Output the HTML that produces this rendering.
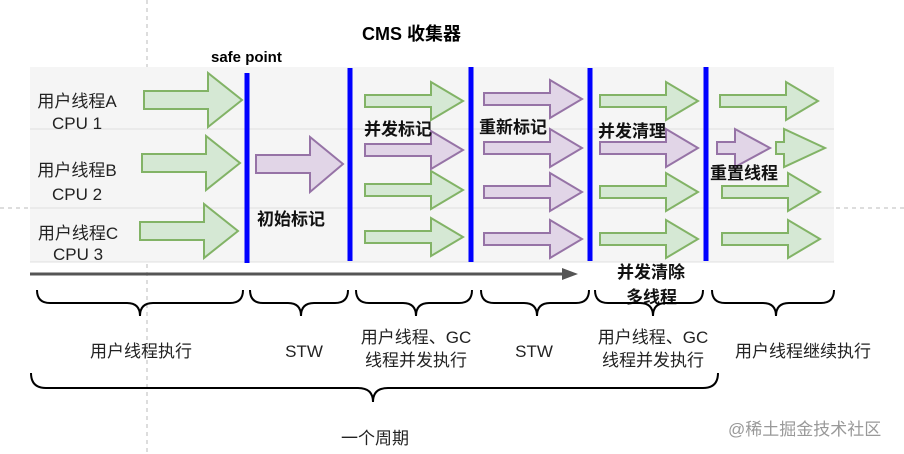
<!DOCTYPE html>
<html><head><meta charset="utf-8"><style>
html,body{margin:0;padding:0;background:#fff;}
svg{display:block;}
text{font-family:"Liberation Sans","Noto Sans CJK SC",sans-serif;}
</style></head><body>
<svg width="904" height="454" viewBox="0 0 904 454" xmlns="http://www.w3.org/2000/svg">
<defs>
<path id="big" d="M0,-9H64V-27L98,0L64,27V9H0Z"/>
<path id="med" d="M0,-6H66V-19L98,0L66,19V6H0Z"/>
<path id="sp" d="M0,-6H18V-19L53,0L18,19V6H0Z"/>
<path id="sg" d="M0,-6H8V-19L49,0L8,19V6H0Z"/>
</defs>
<line x1="147" y1="0" x2="147" y2="454" stroke="#bbb" stroke-dasharray="4,4"/>
<line x1="0" y1="208" x2="30" y2="208" stroke="#bbb" stroke-dasharray="4,4"/>
<line x1="836" y1="208" x2="904" y2="208" stroke="#bbb" stroke-dasharray="4,4"/>
<rect x="30" y="67" width="804" height="195" fill="#f5f5f5"/>
<line x1="30" y1="129" x2="834" y2="129" stroke="#e0e0e0"/>
<line x1="30" y1="208" x2="834" y2="208" stroke="#e0e0e0"/>
<line x1="30" y1="262" x2="834" y2="262" stroke="#e0e0e0"/>
<g fill="#d5e8d4" stroke="#82b366" stroke-width="2">
<use href="#big" transform="translate(144,100)"/>
<use href="#big" transform="translate(142,163)"/>
<use href="#big" transform="translate(140,231)"/>
<use href="#med" transform="translate(365,101)"/>
<use href="#med" transform="translate(365,190)"/>
<use href="#med" transform="translate(365,237)"/>
<use href="#med" transform="translate(600,101)"/>
<use href="#med" transform="translate(600,192)"/>
<use href="#med" transform="translate(600,239)"/>
<use href="#med" transform="translate(720,101)"/>
<use href="#med" transform="translate(722,192)"/>
<use href="#med" transform="translate(722,239)"/>
<use href="#sg" transform="translate(776,148)"/>
</g>
<g fill="#e1d5e7" stroke="#9673a6" stroke-width="2">
<path d="M256,155H310V137L343,164L310,192V173H256Z"/>
<use href="#med" transform="translate(365,150)"/>
<use href="#med" transform="translate(484,99)"/>
<use href="#med" transform="translate(484,148)"/>
<use href="#med" transform="translate(484,192)"/>
<use href="#med" transform="translate(484,239)"/>
<use href="#med" transform="translate(600,148)"/>
<use href="#sp" transform="translate(717,148)"/>
</g>
<g stroke="#0000ff" stroke-width="5">
<line x1="247" y1="73" x2="247" y2="263"/>
<line x1="350" y1="68" x2="350" y2="261"/>
<line x1="471" y1="67" x2="471" y2="262"/>
<line x1="590" y1="68" x2="590" y2="261"/>
<line x1="706" y1="67" x2="706" y2="261"/>
</g>
<line x1="30" y1="274" x2="565" y2="274" stroke="#555" stroke-width="3"/>
<path d="M562,268L578,274L562,280Z" fill="#555"/>
<text x="362" y="40" font-size="18" font-weight="bold" fill="#000">CMS 收集器</text>
<text x="211" y="62" font-size="15" font-weight="bold" fill="#000">safe point</text>
<g font-size="17" fill="#222" text-anchor="middle">
<text x="77" y="107">用户线程A</text><text x="77" y="129">CPU 1</text>
<text x="77" y="176">用户线程B</text><text x="77" y="200">CPU 2</text>
<text x="78" y="239">用户线程C</text><text x="78" y="260">CPU 3</text>
</g>
<g font-size="17" font-weight="bold" fill="#111">
<text x="257" y="225">初始标记</text>
<text x="364" y="135">并发标记</text>
<text x="479" y="133">重新标记</text>
<text x="598" y="137">并发清理</text>
<text x="710" y="179">重置线程</text>
<text x="617" y="278">并发清除</text>
<text x="626" y="303">多线程</text>
</g>
<g fill="none" stroke="#000" stroke-width="2">
<path d="M37,290Q37,303 50,303H127Q140,303 140,316Q140,303 153,303H230Q243,303 243,290"/>
<path d="M250,290Q250,303 263,303H288Q301,303 301,316Q301,303 314,303H335Q348,303 348,290"/>
<path d="M356,290Q356,303 369,303H403Q416,303 416,316Q416,303 429,303H459Q472,303 472,290"/>
<path d="M481,290Q481,303 494,303H524Q537,303 537,316Q537,303 550,303H576Q589,303 589,290"/>
<path d="M595,290Q595,303 608,303H640Q653,303 653,316Q653,303 666,303H690Q703,303 703,290"/>
<path d="M712,290Q712,303 725,303H763Q776,303 776,316Q776,303 789,303H821Q834,303 834,290"/>
<path d="M31,373Q31,388 46,388H358Q373,388 373,402Q373,388 388,388H703Q718,388 718,373"/>
</g>
<g font-size="17" fill="#222" text-anchor="middle">
<text x="141" y="357">用户线程执行</text>
<text x="304" y="357">STW</text>
<text x="416" y="343">用户线程、GC</text>
<text x="416" y="366">线程并发执行</text>
<text x="534" y="357">STW</text>
<text x="653" y="343">用户线程、GC</text>
<text x="653" y="366">线程并发执行</text>
<text x="803" y="357">用户线程继续执行</text>
<text x="375" y="444">一个周期</text>
</g>
<text x="728" y="435" font-size="17" fill="#999">@稀土掘金技术社区</text>
</svg>
</body></html>
